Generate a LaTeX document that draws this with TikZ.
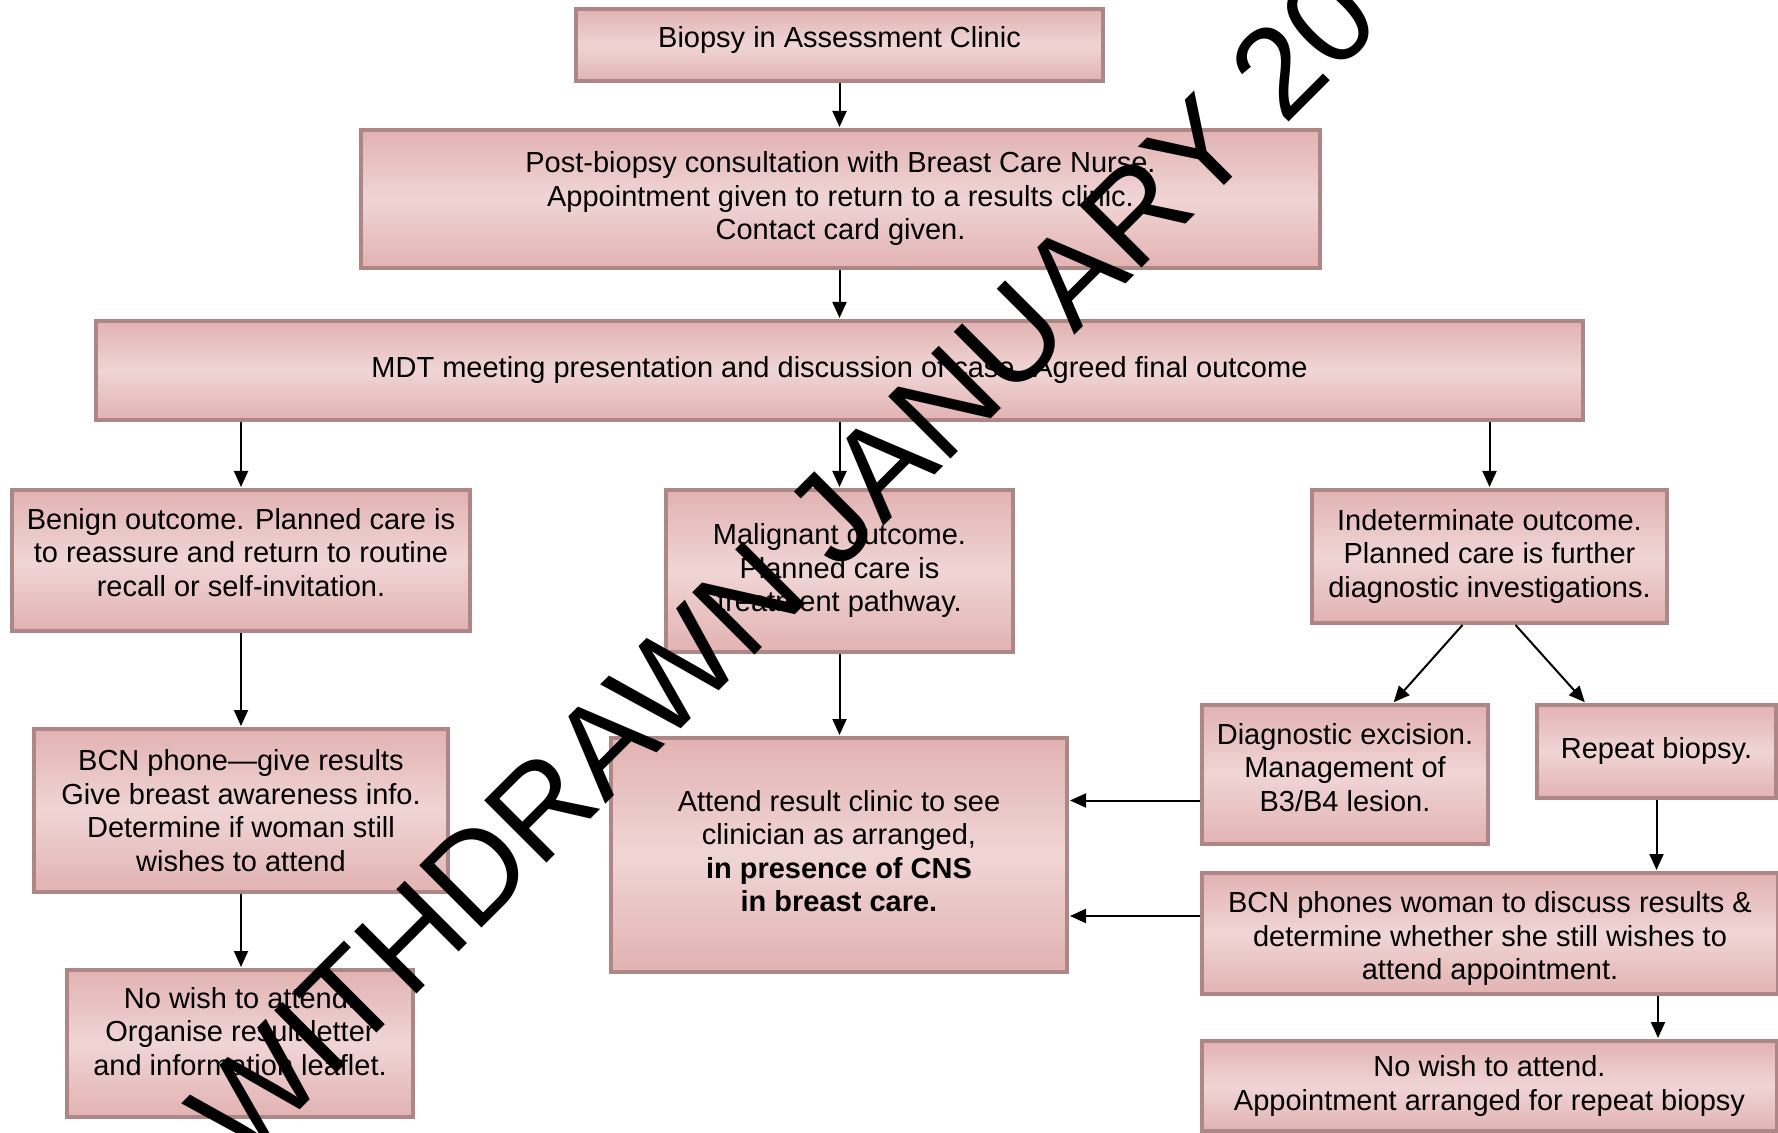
\documentclass[tikz,border=0pt]{standalone}
\usepackage{fontspec}
\setmainfont{Liberation Sans}
\newfontfamily\wmfamily{Liberation Sans}
\usetikzlibrary{arrows.meta}
\definecolor{boxdark}{HTML}{E2B2B2}
\definecolor{boxlight}{HTML}{F0D5D5}
\definecolor{boxline}{HTML}{AD8686}
\begin{document}
\begin{tikzpicture}[x=0.5pt,y=-0.5pt,
  box/.style={draw=boxline, line width=2pt, top color=boxdark, bottom color=boxdark, middle color=boxlight,
    align=center, inner sep=0pt, font=\fontsize{14.5pt}{16.75pt}\selectfont},
  tx/.style={align=center, inner sep=0pt, font=\fontsize{14.5pt}{16.75pt}\selectfont},
  arr/.style={line width=1pt, -{Triangle[length=8pt,width=7pt]}, shorten >=0.5pt}]
\useasboundingbox (0,0) rectangle (1778,1133);
\fill[white] (0,0) rectangle (1778,1133);

\node[box, minimum width=263.5pt, minimum height=36pt] (b1) at (839.5,45) {};
\node[tx] (b1t) at ([yshift=2.5pt]b1.center) {Biopsy in Assessment Clinic};
\node[box, minimum width=479.5pt, minimum height=69pt] (b2) at (840.5,199) {Post-biopsy consultation with Breast Care Nurse.\\Appointment given to return to a results clinic.\\Contact card given.};
\node[box, minimum width=743.5pt, minimum height=49.5pt] (mdt) at (839.5,370.5) {MDT meeting presentation and discussion of case. Agreed final outcome};
\node[box, minimum width=229pt, minimum height=70.5pt] (ben) at (241,560.5) {};
\node[tx] (bent) at ([yshift=4pt]ben.center) {Benign outcome. Planned care is\\to reassure and return to routine\\recall or self-invitation.};
\node[box, minimum width=173.5pt, minimum height=81pt] (mal) at (839.5,571) {Malignant outcome.\\Planned care is\\treatment pathway.};
\node[box, minimum width=177.5pt, minimum height=66.5pt] (ind) at (1489.5,556.5) {Indeterminate outcome.\\Planned care is further\\diagnostic investigations.};
\node[box, minimum width=207pt, minimum height=81.5pt] (bcn) at (241,810.5) {BCN phone\textemdash give results\\Give breast awareness info.\\Determine if woman still\\wishes to attend};
\node[box, minimum width=228pt, minimum height=117pt] (att) at (839,855) {};
\node[tx] (attt) at ([yshift=2pt]att.center) {Attend result clinic to see\\clinician as arranged,\\\textbf{in presence of CNS}\\\textbf{in breast care.}};
\node[box, minimum width=143pt, minimum height=69.5pt] (dia) at (1345,774.5) {};
\node[tx] (diat) at ([yshift=3.5pt]dia.center) {Diagnostic excision.\\Management of\\B3/B4 lesion.};
\node[box, minimum width=119.5pt, minimum height=46.5pt] (rep) at (1656.5,751.5) {Repeat biopsy.};
\node[box, minimum width=288pt, minimum height=60.5pt] (bcw) at (1490,933.5) {};
\node[tx] (bcwt) at ([yshift=-2.5pt]bcw.center) {BCN phones woman to discuss results \&\\determine whether she still wishes to\\attend appointment.};
\node[box, minimum width=287.5pt, minimum height=45pt] (nwr) at (1489.5,1086) {No wish to attend.\\Appointment arranged for repeat biopsy};
\node[box, minimum width=173pt, minimum height=73.5pt] (nwl) at (240,1043.5) {};
\node[tx] (nwlt) at ([yshift=6pt]nwl.center) {No wish to attend.\\Organise result letter\\and information leaflet.};

\draw[arr] (b1.south) -- (b1.south |- b2.north);
\draw[arr] (b2.south -| b1.south) -- (b1.south |- mdt.north);
\draw[arr] (mdt.south -| ben.north) -- (ben.north);
\draw[arr] (mdt.south -| mal.north) -- (mal.north);
\draw[arr] (mdt.south -| ind.north) -- (ind.north);
\draw[arr] (ben.south) -- (bcn.north);
\draw[arr] (mal.south) -- (mal.south |- att.north);
\draw[arr] (bcn.south) -- (bcn.south |- nwl.north);
\draw[arr] ([xshift=-13.5pt]ind.south) -- ([xshift=24pt]dia.north);
\draw[arr] ([xshift=13pt]ind.south) -- ([xshift=-35.5pt]rep.north);
\coordinate (d1) at ([yshift=-13pt]dia.west);
\draw[arr] (d1) -- (att.east |- d1);
\coordinate (w1) at ([yshift=8.75pt]bcw.west);
\draw[arr] (w1) -- (att.east |- w1);
\draw[arr] (rep.south) -- (rep.south |- bcw.north);
\coordinate (w2) at ([xshift=84pt]bcw.south);
\draw[arr] (w2) -- (w2 |- nwr.north);

\node[rotate=45, inner sep=0pt, font=\wmfamily\fontsize{64pt}{78pt}\selectfont] (wm) at (783,565) {WITHDRAWN JANUARY 20};
\end{tikzpicture}
\end{document}
